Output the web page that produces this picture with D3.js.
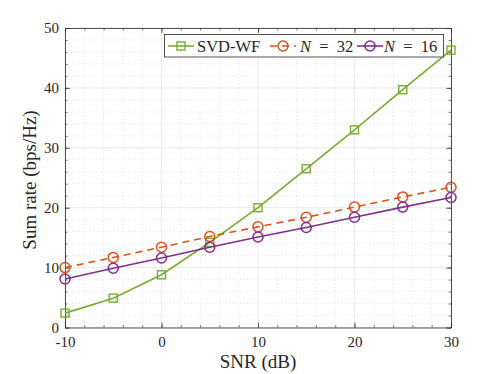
<!DOCTYPE html>
<html>
<head>
<meta charset="utf-8">
<script src="https://cdn.jsdelivr.net/npm/d3@7"></script>
<style>
  body { margin: 0; background: #fff; }
  svg text { font-family: "Liberation Serif", "DejaVu Serif", serif; fill: #262626; }
</style>
</head>
<body>
<div class="box"></div>
<script>
// data
let snr = [-10, -5, 0, 5, 10, 15, 20, 25, 30]
let svdwf = [2.4, 4.9, 8.8, 14.2, 20.0, 26.5, 33.0, 39.7, 46.3]
let n32 = [10.0, 11.7, 13.4, 15.2, 16.8, 18.4, 20.1, 21.8, 23.4]
let n16 = [8.1, 9.9, 11.6, 13.4, 15.1, 16.7, 18.4, 20.1, 21.7]
let xticks = [-10, 0, 10, 20, 30]
let yticks = [0, 10, 20, 30, 40, 50]
let xminor = d3.range(-10, 30.1, 2)
let yminor = d3.range(0, 50.1, 2)

let series = [
  { name: "SVD-WF", vals: svdwf, color: "#77AC30", dash: null, mark: "square" },
  { name: "N32", vals: n32, color: "#D95319", dash: "7,5", mark: "circle" },
  { name: "N16", vals: n16, color: "#7E2F8E", dash: null, mark: "circle" }
]

let W = 498, H = 374
let L = 65, R = 451, T = 28, B = 327.5

let svg = d3.select('.box').append('svg')
  .attr('width', W).attr('height', H)

let x = d3.scaleLinear().domain([-10, 30]).range([L, R])
let y = d3.scaleLinear().domain([0, 50]).range([B, T])

// grid
let grid = svg.append('g')
grid.selectAll('.vmin').data(xminor.filter(d => !xticks.includes(d))).join('line')
  .attr('x1', d => x(d)).attr('x2', d => x(d)).attr('y1', T).attr('y2', B)
  .style('stroke', '#cfcfcf').style('stroke-width', 0.6).style('stroke-dasharray', '1,2.5')
grid.selectAll('.hmin').data(yminor.filter(d => !yticks.includes(d))).join('line')
  .attr('y1', d => y(d)).attr('y2', d => y(d)).attr('x1', L).attr('x2', R)
  .style('stroke', '#cfcfcf').style('stroke-width', 0.6).style('stroke-dasharray', '1,2.5')
grid.selectAll('.vmaj').data(xticks).join('line')
  .attr('x1', d => x(d)).attr('x2', d => x(d)).attr('y1', T).attr('y2', B)
  .style('stroke', '#e3e3e3').style('stroke-width', 0.8)
grid.selectAll('.hmaj').data(yticks).join('line')
  .attr('y1', d => y(d)).attr('y2', d => y(d)).attr('x1', L).attr('x2', R)
  .style('stroke', '#e3e3e3').style('stroke-width', 0.8)

// axes (box with inward ticks on all sides)
let mkAxis = (axis, tr, major, labels) => {
  let g = svg.append('g').attr('transform', tr)
  g.call(axis.tickValues(major).tickSizeInner(-5).tickSizeOuter(0)
    .tickFormat(labels ? (d => String(d)) : ''))
  g.select('.domain').style('stroke', '#262626').style('stroke-width', 0.8)
  g.selectAll('.tick line').style('stroke', '#262626').style('stroke-width', 0.7)
  g.selectAll('text').style('font-size', '15px').style('fill', '#262626')
    .style('font-family', '"Liberation Serif", "DejaVu Serif", serif')
  return g
}
let mkMinor = (axis, tr, vals) => {
  let g = svg.append('g').attr('transform', tr)
  g.call(axis.tickValues(vals).tickSizeInner(-2.5).tickSizeOuter(0).tickFormat(''))
  g.select('.domain').remove()
  g.selectAll('.tick line').style('stroke', '#262626').style('stroke-width', 0.6)
}
mkMinor(d3.axisBottom(x), `translate(0,${B})`, xminor)
mkMinor(d3.axisTop(x), `translate(0,${T})`, xminor)
mkMinor(d3.axisLeft(y), `translate(${L},0)`, yminor)
mkMinor(d3.axisRight(y), `translate(${R},0)`, yminor)

let gx = mkAxis(d3.axisBottom(x), `translate(0,${B})`, xticks, true)
gx.selectAll('text').attr('y', 9)
mkAxis(d3.axisTop(x), `translate(0,${T})`, xticks, false)
let gy = mkAxis(d3.axisLeft(y), `translate(${L},0)`, yticks, true)
gy.selectAll('text').attr('x', -6)
mkAxis(d3.axisRight(y), `translate(${R},0)`, yticks, false)

// lines
let line = d3.line().x((d, i) => x(snr[i])).y(d => y(d))
series.forEach(s => {
  svg.append('path').datum(s.vals)
    .attr('d', line)
    .style('fill', 'none').style('stroke', s.color).style('stroke-width', 1.6)
    .style('stroke-dasharray', s.dash)
  let g = svg.append('g')
  if (s.mark == 'square') {
    g.selectAll('rect').data(s.vals).join('rect')
      .attr('x', (d, i) => x(snr[i]) - 4).attr('y', d => y(d) - 4)
      .attr('width', 8).attr('height', 8)
      .style('fill', 'none').style('stroke', s.color).style('stroke-width', 1.4)
  } else {
    g.selectAll('circle').data(s.vals).join('circle')
      .attr('cx', (d, i) => x(snr[i])).attr('cy', d => y(d)).attr('r', 5)
      .style('fill', 'none').style('stroke', s.color).style('stroke-width', 1.5)
  }
})

// legend
let lg = svg.append('g')
lg.append('rect').attr('x', 164.5).attr('y', 34.5).attr('width', 279).attr('height', 22.5)
  .style('fill', '#fff').style('stroke', '#262626').style('stroke-width', 0.8)
let items = [
  { s: series[0], x0: 168 },
  { s: series[1], x0: 270 },
  { s: series[2], x0: 357 }
]
let ly = 46
items.forEach(it => {
  lg.append('line').attr('x1', it.x0).attr('x2', it.x0 + 26).attr('y1', ly).attr('y2', ly)
    .style('stroke', it.s.color).style('stroke-width', 1.6).style('stroke-dasharray', it.s.dash)
  let mx = it.x0 + 13
  if (it.s.mark == 'square') {
    lg.append('rect').attr('x', mx - 4).attr('y', ly - 4).attr('width', 8).attr('height', 8)
      .style('fill', 'none').style('stroke', it.s.color).style('stroke-width', 1.4)
  } else {
    lg.append('circle').attr('cx', mx).attr('cy', ly).attr('r', 5)
      .style('fill', 'none').style('stroke', it.s.color).style('stroke-width', 1.5)
  }
})
let lt = (tx, parts) => {
  let t = lg.append('text').attr('x', tx).attr('y', ly + 5.5).style('font-size', '16.5px')
    .attr('xml:space', 'preserve')
  parts.forEach(p => t.append('tspan').text(p[0]).style('font-style', p[1] ? 'italic' : 'normal'))
}
lt(197, [["SVD-WF", false]])
lt(300, [["N", true], ["\u2002=\u200232", false]])
lt(384, [["N", true], ["\u2002=\u200216", false]])

// axis labels
svg.append('text').attr('x', 258).attr('y', 368).attr('text-anchor', 'middle')
  .style('font-size', '19px').text('SNR (dB)')
svg.append('text').attr('transform', `translate(36,180) rotate(-90)`)
  .attr('text-anchor', 'middle').style('font-size', '19px').text('Sum rate (bps/Hz)')
</script>
</body>
</html>
